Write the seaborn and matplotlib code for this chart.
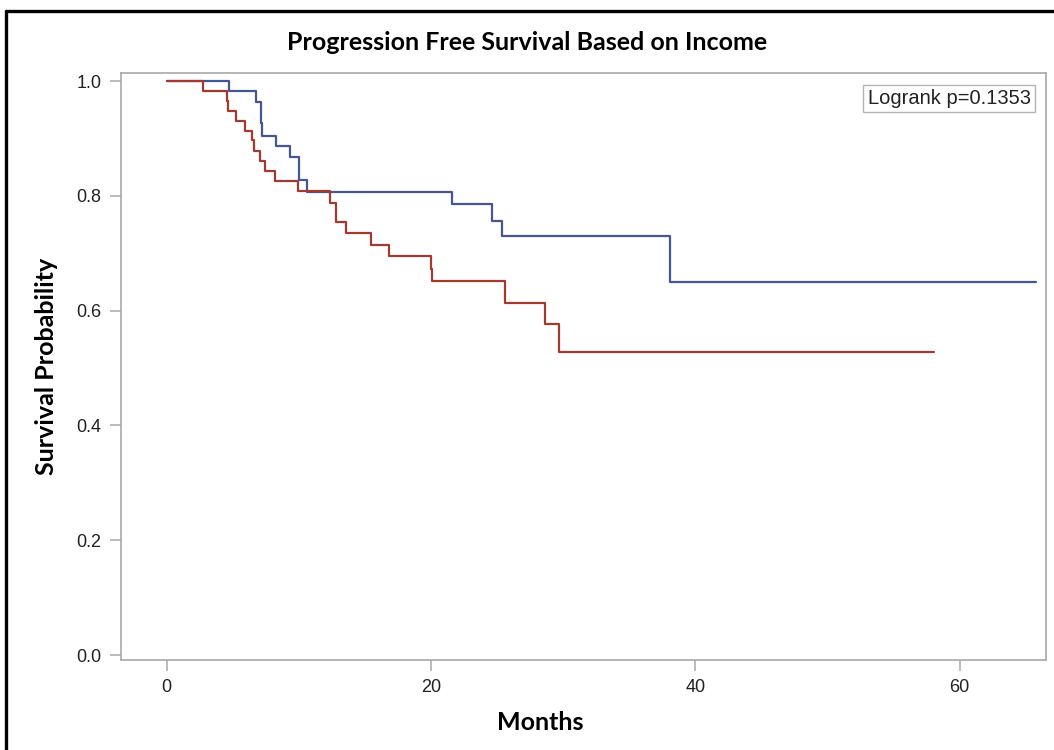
import numpy as np
import pandas as pd
import seaborn as sns
from matplotlib import pyplot as plt
from matplotlib.lines import Line2D

# %% Kaplan-Meier steps
# higher income group (blue)
blue_months = [0, 4.73, 6.75, 7.13, 7.23, 8.26, 9.37, 10.0, 10.63, 21.59, 24.61, 25.37, 38.1, 65.8]
blue_surv = [1.0, 0.983, 0.963, 0.926, 0.905, 0.887, 0.868, 0.828, 0.807, 0.785, 0.756, 0.730, 0.649, 0.649]
# lower income group (red)
red_months = [0, 2.77, 4.54, 4.63, 5.29, 5.90, 6.47, 6.60, 7.07, 7.48, 8.24, 9.95, 12.37,
              12.85, 13.6, 15.5, 16.81, 20.03, 20.1, 25.59, 28.6, 29.7, 58.06]
red_surv = [1.0, 0.983, 0.965, 0.948, 0.930, 0.913, 0.897, 0.878, 0.861, 0.843, 0.826, 0.808, 0.788,
            0.754, 0.735, 0.714, 0.695, 0.673, 0.652, 0.614, 0.576, 0.528, 0.528]
groups = ["Higher income", "Lower income"]
colors = ["#445694", "#A23A2E"]
pval_text = "Logrank p=0.1353"
x_ticks = [0, 20, 40, 60]
y_ticks = [0.0, 0.2, 0.4, 0.6, 0.8, 1.0]

df = pd.concat([
    pd.DataFrame({"months": blue_months, "surv": blue_surv, "group": groups[0]}),
    pd.DataFrame({"months": red_months, "surv": red_surv, "group": groups[1]}),
], ignore_index=True)

# %% plot
sns.set_style("white")
plt.rcParams["font.family"] = ["Liberation Sans", "DejaVu Sans"]
fig = plt.figure(figsize=(10.54, 7.5), dpi=100)
ax = fig.add_axes([0.1145, 0.12, 0.8776, 0.7833])

sns.lineplot(
    data=df, x="months", y="surv", hue="group",
    palette=dict(zip(groups, colors)),
    estimator=None, sort=False, drawstyle="steps-post",
    linewidth=1.6, legend=False, ax=ax,
)
ax.set_xlim(-3.47, 66.5)
ax.set_ylim(-0.0087, 1.0148)
ax.set_xticks(x_ticks)
ax.set_yticks(y_ticks)
ax.set_yticklabels([f"{v:.1f}" for v in y_ticks])
ax.set_xlabel("")
ax.set_ylabel("")
for s in ax.spines.values():
    s.set_color("#a8a8a8")
    s.set_linewidth(1.2)
ax.tick_params(bottom=True, left=True, direction="out", length=8, width=1.1, color="#a8a8a8",
               labelsize=13, labelcolor="#222222", pad=6)

ax.text(0.984, 0.972, pval_text, transform=ax.transAxes, ha="right", va="top",
        fontsize=14.5, color="#222222",
        bbox=dict(boxstyle="square,pad=0.22", fc="white", ec="#b4b4b4", lw=1))

bold = ["Lato", "DejaVu Sans"]
fig.text(0.5, 0.943, "Progression Free Survival Based on Income", ha="center", va="center",
         fontsize=18, fontweight="bold", family=bold, color="black")
fig.text(0.513, 0.037, "Months", ha="center", va="center",
         fontsize=18, fontweight="bold", family=bold, color="black")
fig.text(0.044, 0.512, "Survival Probability", ha="center", va="center", rotation=90,
         fontsize=18, fontweight="bold", family=bold, color="black")

# black frame around the figure (cut off at right/bottom)
fig.add_artist(Line2D([0.0057, 1.0], [0.9847, 0.9847], color="black", lw=2.4, transform=fig.transFigure))
fig.add_artist(Line2D([0.0057, 0.0057], [0.0, 0.9847], color="black", lw=2.4, transform=fig.transFigure))

plt.savefig("out.png", dpi=100)
plt.close()
